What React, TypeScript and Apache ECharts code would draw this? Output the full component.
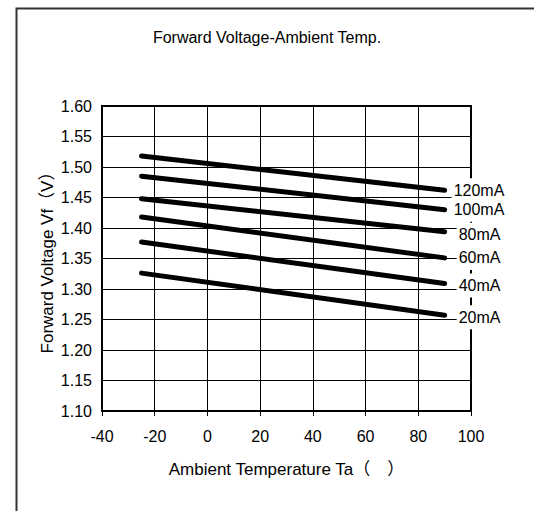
import React, { useEffect, useRef } from "react";
import * as echarts from "echarts";

const temps = [-25, 90];
const seriesNames = ["120mA", "100mA", "80mA", "60mA", "40mA", "20mA"];
const startValues = [1.518, 1.485, 1.448, 1.418, 1.377, 1.326];
const endValues = [1.462, 1.43, 1.394, 1.351, 1.309, 1.257];
const labelGaps = [7, 7, 12, 12, 12, 12];
const labelShiftY = [0, 0, 3, 0, 2, 2];

const FONT = "'Liberation Sans', Arial, 'Noto Sans CJK SC', sans-serif";

export default function App() {
  const ref = useRef<HTMLDivElement>(null);
  useEffect(() => {
    const chart = echarts.init(ref.current!, null, { renderer: "svg" });
    const series = seriesNames.map((name, i) => ({
      type: "line",
      name,
      data: [
        [temps[0], startValues[i]],
        [temps[1], endValues[i]],
      ],
      symbol: "none",
      lineStyle: { color: "#000", width: 5, cap: "round" },
      endLabel: {
        show: true,
        formatter: name,
        distance: labelGaps[i],
        offset: [0, labelShiftY[i]],
        color: "#000",
        fontSize: 16,
        fontFamily: FONT,
        backgroundColor: "#fff",
        padding: [4, 2, 4, 2],
      },
      z: 3,
    }));
    chart.setOption({
      animation: false,
      backgroundColor: "#fff",
      title: {
        text: "Forward Voltage-Ambient Temp.",
        left: 262,
        top: 24,
        textAlign: "center",
        textStyle: { fontFamily: FONT, fontSize: 16, fontWeight: "normal", color: "#000" },
      },
      graphic: [
        {
          type: "rect",
          shape: { x: 16.5, y: 8.5, width: 540, height: 540 },
          style: { fill: "none", stroke: "#333", lineWidth: 2 },
          z: 0,
        },
      ],
      grid: {
        left: 102,
        right: 63,
        top: 106,
        bottom: 100,
        show: true,
        borderColor: "#000",
        borderWidth: 2,
        backgroundColor: "transparent",
      },
      xAxis: {
        type: "value",
        min: -40,
        max: 100,
        interval: 20,
        name: "Ambient Temperature Ta（　）",
        nameLocation: "middle",
        nameGap: 50,
        nameMoveOverlap: false,
        nameTextStyle: { fontFamily: FONT, fontSize: 17, color: "#000" },
        axisLine: { show: true, onZero: false, lineStyle: { color: "#000", width: 2 } },
        axisTick: { show: true, length: 5, lineStyle: { color: "#000" } },
        axisLabel: { fontFamily: FONT, fontSize: 16, color: "#000", margin: 17 },
        splitLine: { show: true, lineStyle: { color: "#000", width: 1 } },
      },
      yAxis: {
        type: "value",
        min: 1.1,
        max: 1.6,
        interval: 0.05,
        name: "Forward Voltage Vf（V）",
        nameLocation: "middle",
        nameGap: 46,
        nameMoveOverlap: false,
        nameTextStyle: { fontFamily: FONT, fontSize: 17, color: "#000" },
        axisLine: { show: true, onZero: false, lineStyle: { color: "#000", width: 2 } },
        axisTick: { show: false },
        axisLabel: {
          fontFamily: FONT,
          fontSize: 16,
          color: "#000",
          margin: 10,
          formatter: (v: number) => v.toFixed(2),
        },
        splitLine: { show: true, lineStyle: { color: "#000", width: 1 } },
      },
      series,
    });
    return () => chart.dispose();
  }, []);
  return (
    <div
      ref={ref}
      style={{ position: "absolute", left: 0, top: 0, width: 534, height: 511 }}
    />
  );
}
